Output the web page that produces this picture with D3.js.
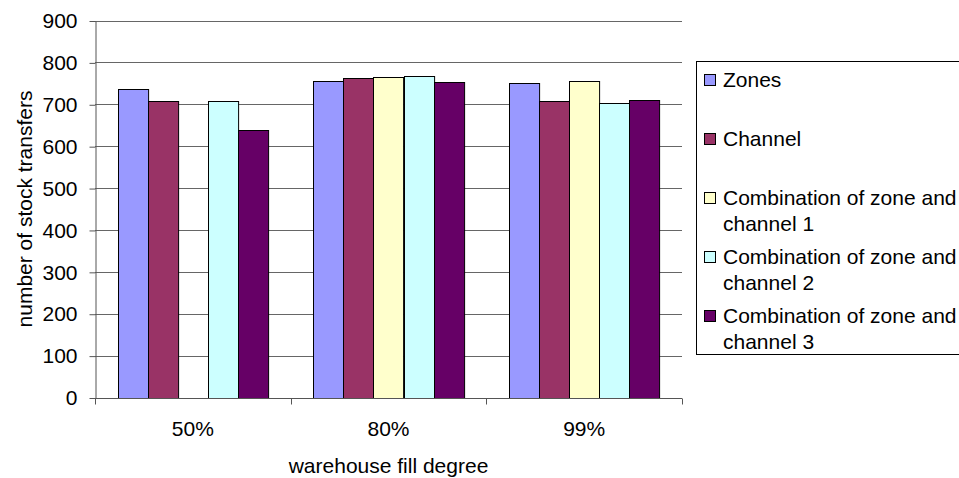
<!DOCTYPE html>
<html>
<head>
<meta charset="utf-8">
<script src="https://cdn.jsdelivr.net/npm/d3@7"></script>
<style>
  html, body { margin: 0; padding: 0; background: #fff; }
  svg { display: block; }
  text { font-family: "Liberation Sans", Arial, Helvetica, sans-serif; fill: #000; }
</style>
</head>
<body>
<svg id="chart" width="959" height="478"></svg>
<script>
// Warehouse fill degree categories
const categories = ["50%", "80%", "99%"];

// Strategy names (legend order)
const seriesNames = [
  "Zones",
  "Channel",
  "Combination of zone and channel 1",
  "Combination of zone and channel 2",
  "Combination of zone and channel 3"
];

// Number of stock transfers per strategy, one entry per fill degree
const zones    = [737, 756, 750];
const channel  = [707, 763, 708];
const combo1   = [null, 766, 756];
const combo2   = [707, 768, 704];
const combo3   = [639, 754, 710];

const seriesValues = [zones, channel, combo1, combo2, combo3];
const seriesColors = ["#9999FF", "#993366", "#FFFFCC", "#CCFFFF", "#660066"];

// Legend labels broken over two lines as in a narrow legend box
const legendLines = [
  ["Zones"],
  ["Channel"],
  ["Combination of zone and", "channel 1"],
  ["Combination of zone and", "channel 2"],
  ["Combination of zone and", "channel 3"]
];

const yTicks = [0, 100, 200, 300, 400, 500, 600, 700, 800, 900];

const svg = d3.select("#chart");
const fontSize = 21;

const plot = { left: 95, right: 682, top: 20.5, bottom: 397.5 };

const x0 = d3.scaleBand()
  .domain(categories)
  .range([plot.left, plot.right])
  .paddingInner(0)
  .paddingOuter(0);

const x1 = d3.scaleBand()
  .domain(d3.range(seriesNames.length))
  .range([0, x0.bandwidth()])
  .paddingInner(0)
  .paddingOuter(0.75);

const y = d3.scaleLinear()
  .domain([0, 900])
  .range([plot.bottom, plot.top]);

// Horizontal gridlines
svg.append("g")
  .selectAll("line")
  .data(yTicks.filter(t => t > 0))
  .join("line")
  .attr("x1", plot.left)
  .attr("x2", plot.right)
  .attr("y1", d => Math.round(y(d)) + 0.5)
  .attr("y2", d => Math.round(y(d)) + 0.5)
  .attr("stroke", "#666")
  .attr("stroke-width", 1);

// Bars
const rows = [];
categories.forEach((c, ci) => {
  seriesValues.forEach((vals, si) => {
    if (vals[ci] != null) rows.push({ cat: c, si, value: vals[ci] });
  });
});

svg.append("g")
  .selectAll("rect")
  .data(rows)
  .join("rect")
  .attr("x", d => Math.round(x0(d.cat) + x1(d.si)) + 0.5)
  .attr("y", d => Math.round(y(d.value)) + 0.5)
  .attr("width", x1.bandwidth())
  .attr("height", d => Math.round(y(0)) - Math.round(y(d.value)))
  .attr("fill", d => seriesColors[d.si])
  .attr("stroke", "#000")
  .attr("stroke-width", 1);

// Y axis
const yAxis = svg.append("g")
  .attr("transform", `translate(${plot.left + 0.5},0.5)`)
  .call(d3.axisLeft(y).tickValues(yTicks).tickSize(6).tickPadding(12).tickSizeOuter(0))
  .call(g => g.selectAll("text").attr("font-size", fontSize))
  .call(g => g.selectAll("line, path").attr("stroke", "#555"));
yAxis.attr("font-family", null).attr("font-size", null);

// X axis: ticks at category boundaries, labels centred in each band
const xAxisG = svg.append("g");
xAxisG.append("line")
  .attr("x1", plot.left).attr("x2", plot.right)
  .attr("y1", Math.round(y(0)) + 0.5).attr("y2", Math.round(y(0)) + 0.5)
  .attr("stroke", "#555");
const boundaries = categories.map(c => x0(c)).concat([x0.range()[1]]);
xAxisG.selectAll("line.tick")
  .data(boundaries)
  .join("line")
  .attr("class", "tick")
  .attr("x1", d => Math.round(d) + 0.5).attr("x2", d => Math.round(d) + 0.5)
  .attr("y1", Math.round(y(0)) + 0.5).attr("y2", Math.round(y(0)) + 6.5)
  .attr("stroke", "#555");
xAxisG.selectAll("text")
  .data(categories)
  .join("text")
  .attr("x", d => x0(d) + x0.bandwidth() / 2)
  .attr("y", 436)
  .attr("text-anchor", "middle")
  .attr("font-size", fontSize)
  .text(d => d);

// Axis titles
svg.append("text")
  .attr("x", (plot.left + plot.right) / 2)
  .attr("y", 473)
  .attr("text-anchor", "middle")
  .attr("font-size", fontSize)
  .text("warehouse fill degree");

svg.append("text")
  .attr("transform", `translate(32,${(plot.top + plot.bottom) / 2}) rotate(-90)`)
  .attr("text-anchor", "middle")
  .attr("font-size", fontSize)
  .text("number of stock transfers");

// Legend
const legend = svg.append("g");
legend.append("rect")
  .attr("x", 696.5).attr("y", 61.5)
  .attr("width", 300).attr("height", 293)
  .attr("fill", "#fff")
  .attr("stroke", "#000");

const itemY = d3.scalePoint()
  .domain(d3.range(seriesNames.length))
  .range([80, 316]);
const lineGap = 26;

const items = legend.selectAll("g.item")
  .data(seriesNames.map((n, i) => i))
  .join("g")
  .attr("class", "item")
  .attr("transform", i => `translate(0,${itemY(i)})`);

items.append("rect")
  .attr("x", 704.5).attr("y", -5.5)
  .attr("width", 11).attr("height", 11)
  .attr("fill", i => seriesColors[i])
  .attr("stroke", "#000");

items.append("text")
  .attr("font-size", fontSize)
  .selectAll("tspan")
  .data(i => legendLines[i])
  .join("tspan")
  .attr("x", 723)
  .attr("y", (d, k) => 7 + k * lineGap)
  .text(d => d);
</script>
</body>
</html>
